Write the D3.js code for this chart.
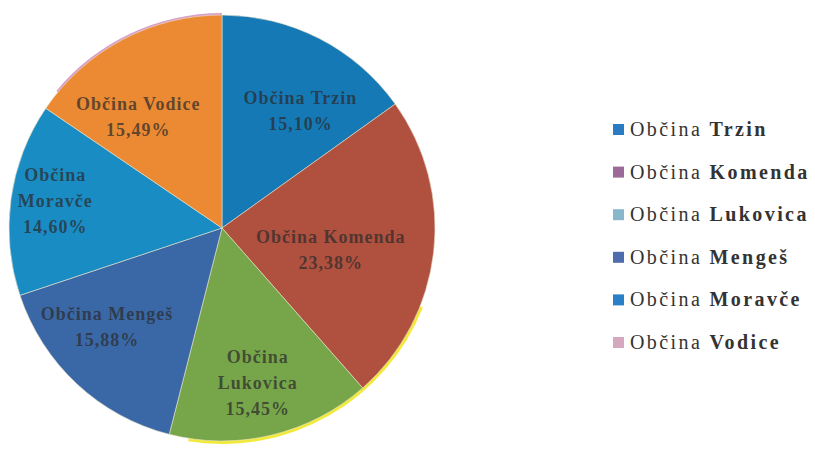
<!DOCTYPE html>
<html><head><meta charset="utf-8">
<script src="https://cdn.jsdelivr.net/npm/d3@7"></script>
<style>html,body{margin:0;padding:0;background:#fff;}svg{display:block;}</style>
</head><body>
<svg id="chart" width="815" height="450"></svg>
<script>
const categories = ["Občina Trzin","Občina Komenda","Občina Lukovica","Občina Menges","Občina Moravče","Občina Vodice"];
const legendLabels = ["Občina Trzin","Občina Komenda","Občina Lukovica","Občina Mengeš","Občina Moravče","Občina Vodice"];
const values = [15.10, 23.38, 15.45, 15.88, 14.60, 15.49];
const valueLabels = ["15,10%","23,38%","15,45%","15,88%","14,60%","15,49%"];
const sliceLabelLines = [["Občina Trzin"],["Občina Komenda"],["Občina","Lukovica"],["Občina Mengeš"],["Občina","Moravče"],["Občina Vodice"]];

const sliceColors = ["#1579b6","#b0503e","#77a64a","#3a68a6","#1a8cc4","#ec8a33"];
const legendColors = ["#2a7cc2","#9c6a98","#8ab6cc","#4f6cae","#2a80c8","#d6a8c0"];
const labelRadius = [0.62, 0.58, 0.72, 0.62, 0.8, 0.62];
const labelShift = [[18,0],[-14,8],[0,6],[-25,2],[2,-4],[-22,6]];

const svg = d3.select("#chart");
const cx = 222, cy = 228, R = 213;
const g = svg.append("g").attr("transform", `translate(${cx},${cy})`);

const pie = d3.pie().sort(null).value(d => d);
const arcs = pie(values);
const arc = d3.arc().innerRadius(0).outerRadius(R);

// subtle rims from the scan
g.append("path").attr("d", d3.arc().innerRadius(R-1).outerRadius(R+3).startAngle(Math.PI*0.62).endAngle(Math.PI*1.05)())
  .attr("fill","#f2ea3a");
g.append("path").attr("d", d3.arc().innerRadius(R-1).outerRadius(R+2).startAngle(Math.PI*1.72).endAngle(Math.PI*2)())
  .attr("fill","#d9a0c8");

g.selectAll("path.slice").data(arcs).join("path")
  .attr("class","slice")
  .attr("d", arc)
  .attr("fill", (d,i) => sliceColors[i])
  .attr("stroke", "#e8e0c8").attr("stroke-width", 0.6);

const labels = g.selectAll("g.lbl").data(arcs).join("g").attr("class","lbl")
  .attr("transform", (d,i) => {
    const la = d3.arc().innerRadius(R*labelRadius[i]).outerRadius(R*labelRadius[i]);
    const c = la.centroid(d);
    return `translate(${c[0]+labelShift[i][0]},${c[1]+labelShift[i][1]})`;
  });
labels.each(function(d,i){
  const lines = sliceLabelLines[i].concat([valueLabels[i]]);
  const n = lines.length, lh = 26;
  d3.select(this).selectAll("text").data(lines).join("text")
    .attr("text-anchor","middle")
    .attr("x",0)
    .attr("y",(t,k) => (k - (n-1)/2)*lh + 6)
    .attr("font-family","'Liberation Serif','DejaVu Serif',serif")
    .attr("font-weight","bold")
    .attr("font-size",18)
    .attr("letter-spacing","1px")
    .attr("fill","#2b2b2b")
    .attr("fill-opacity",0.72)
    .text(t => t);
});

// legend
const legend = svg.append("g").attr("transform","translate(613,131)");
const ly = d3.scalePoint().domain(legendLabels).range([0, 213]);
const items = legend.selectAll("g").data(legendLabels).join("g")
  .attr("transform", d => `translate(0,${ly(d)})`);
items.append("rect").attr("x",0).attr("y",-7).attr("width",11).attr("height",11)
  .attr("fill",(d,i)=>legendColors[i]);
items.append("text").attr("x",17).attr("y",5)
  .attr("font-family","'Liberation Serif','DejaVu Serif',serif")
  .attr("font-size",20)
  .attr("letter-spacing","2.4px")
  .attr("fill","#333")
  .each(function(d){
    const parts = d.split(" ");
    d3.select(this).append("tspan").text(parts[0] + " ");
    d3.select(this).append("tspan").attr("font-weight","bold").text(parts.slice(1).join(" "));
  });
</script>
</body></html>
